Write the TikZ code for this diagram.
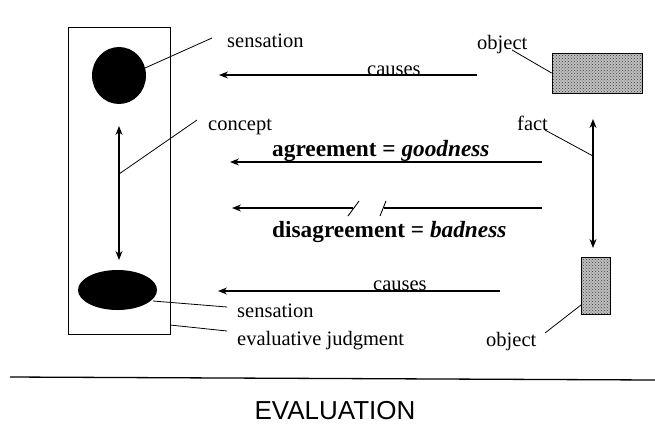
\documentclass[tikz,border=0pt]{standalone}
\usepackage{fontspec}
\setmainfont{Liberation Serif}
\newfontfamily\headfont{Liberation Sans}
\usetikzlibrary{arrows.meta,patterns,shapes.geometric}
\begin{document}
\begin{tikzpicture}[x=1pt,y=-1pt,
  lbl/.style={anchor=base west,inner sep=0pt,font=\fontsize{20.5}{22}\selectfont},
  blbl/.style={anchor=base west,inner sep=0pt,font=\fontsize{23.3}{25}\selectfont\bfseries},
  leader/.style={line width=0.8pt},
  arr/.style={line width=1.1pt,-{Stealth[length=9pt,width=7pt]}},
  darr/.style={line width=1.1pt,{Stealth[length=9pt,width=7pt]}-{Stealth[length=9pt,width=7pt]}},
  blob/.style={ellipse,fill=black,inner sep=0pt},
  objbox/.style={draw=black,line width=0.8pt,fill=gray!50,postaction={pattern=crosshatch dots,pattern color=black!75}}
]
\useasboundingbox (0,0) rectangle (655,429);
% left frame
\node[draw,line width=0.9pt,minimum width=102pt,minimum height=307pt,inner sep=0pt] (frame) at (119,180.5) {};
\node[blob,minimum width=54pt,minimum height=57pt] (c1) at (119,75.5) {};
\node[blob,minimum width=79pt,minimum height=40pt] (c2) at (117.5,290) {};
\coordinate (c1e) at (145,68);
\coordinate (c2e) at (153,301);
% vertical double arrow left
\coordinate (la) at (119,126);
\coordinate (lb) at (119,260);
\draw[darr] (la) -- (lb);
\coordinate (lmid) at (119,174);
% labels left
\node[lbl] (sens1) at (227,47) {sensation};
\coordinate (sens1e) at (212,38);
\draw[leader] (c1e) -- (sens1e);
\node[lbl] (conc) at (208,130) {concept};
\coordinate (conce) at (197,120);
\draw[leader] (lmid) -- (conce);
\node[lbl] (sens2) at (237,317) {sensation};
\coordinate (sens2e) at (227,307);
\draw[leader] (c2e) -- (sens2e);
\node[lbl] (evj) at (237,345) {evaluative judgment};
\coordinate (boxe) at (170,325);
\coordinate (evje) at (227,331);
\draw[leader] (boxe) -- (evje);
% objects right
\node[objbox,minimum width=90pt,minimum height=40pt,inner sep=0pt] (obj1) at (597,73) {};
\node[lbl] (obj1l) at (477,49) {object};
\coordinate (obj1le) at (512,50);
\draw[leader] (obj1le) -- (obj1.west);
\node[objbox,minimum width=29pt,minimum height=57pt,inner sep=0pt] (obj2) at (595.5,285.5) {};
\node[lbl] (obj2l) at (486,346) {object};
\coordinate (obj2le) at (545,333);
\coordinate (obj2e) at (581,305);
\draw[leader] (obj2le) -- (obj2e);
% fact arrow
\coordinate (fa) at (593,119);
\coordinate (fb) at (593,248);
\draw[darr] (fa) -- (fb);
\node[lbl] (fact) at (517,130) {fact};
\coordinate (facte) at (545,130);
\coordinate (factm) at (593,156);
\draw[leader] (facte) -- (factm);
% causes top
\coordinate (ct1) at (477,75);
\coordinate (ct2) at (219,75);
\draw[arr] (ct1) -- (ct2);
\node[lbl] (caus1) at (367,75) {causes};
% agreement
\coordinate (ag1) at (542,162);
\coordinate (ag2) at (230,162);
\draw[arr] (ag1) -- (ag2);
\node[blbl] (agr) at (272,156) {agreement = \textit{goodness}};
% disagreement
\coordinate (da1) at (353,208);
\coordinate (da2) at (232,208);
\coordinate (da3) at (542,208);
\coordinate (da4) at (384,208);
\draw[arr] (da1) -- (da2);
\draw[line width=1.1pt] (da3) -- (da4);
\draw[line width=0.9pt] (348,216) -- (359,201);
\draw[line width=0.9pt] (380,216) -- (386,201);
\node[blbl] (dis) at (272,237) {disagreement = \textit{badness}};
% causes bottom
\coordinate (cb1) at (500,291);
\coordinate (cb2) at (218,291);
\draw[arr] (cb1) -- (cb2);
\node[lbl] (caus2) at (373,290) {causes};
% rule and title
\coordinate (r1) at (10,377);
\coordinate (r2) at (655,380);
\draw[line width=1.3pt] (r1) -- (r2);
\node[anchor=base,inner sep=0pt,font=\headfont\fontsize{26}{28}\selectfont] (title) at (335,419) {EVALUATION};
\end{tikzpicture}
\end{document}
